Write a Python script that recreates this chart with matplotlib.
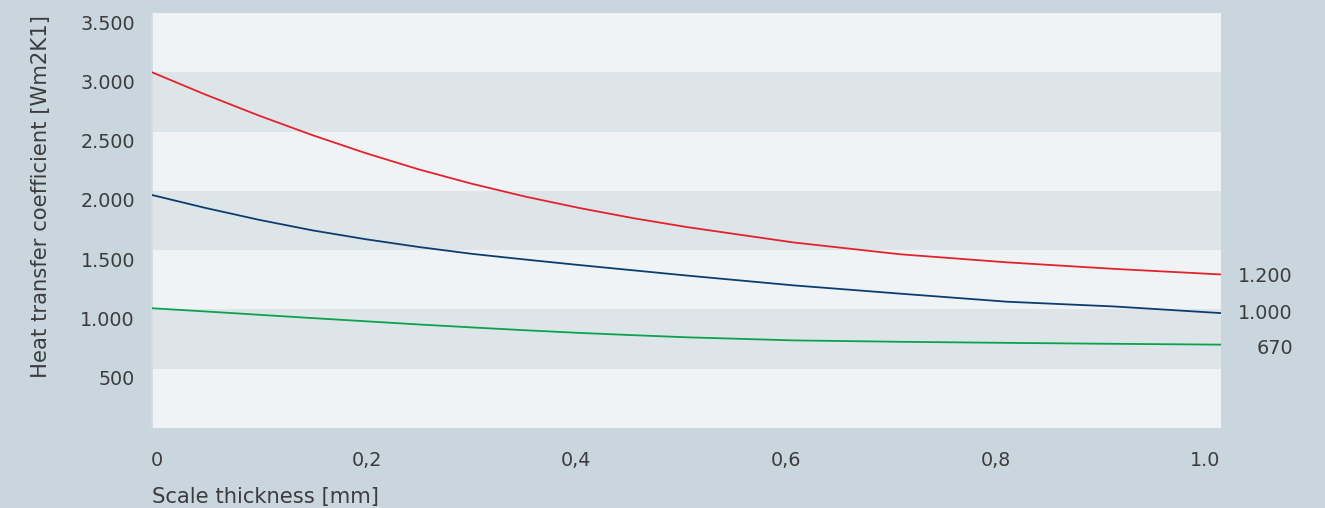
import matplotlib
matplotlib.use("Agg")
import matplotlib.pyplot as plt
from matplotlib.transforms import blended_transform_factory, ScaledTranslation

# ---- data ----
x_vals = [0, 0.05, 0.1, 0.15, 0.2, 0.25, 0.3, 0.35, 0.4, 0.45, 0.5, 0.6, 0.7, 0.8, 0.9, 1.0]
red_vals = [3000, 2812, 2635, 2470, 2318, 2180, 2058, 1950, 1855, 1770, 1695, 1565, 1465, 1397, 1342, 1295]
blue_vals = [1965, 1856, 1756, 1667, 1592, 1526, 1468, 1420, 1374, 1330, 1286, 1203, 1133, 1065, 1025, 969]
green_vals = [1010, 983, 955, 927, 900, 873, 848, 824, 802, 783, 765, 739, 727, 718, 710, 703]

x_ticks = [0, 0.2, 0.4, 0.6, 0.8, 1.0]
x_tick_labels = ["0", "0,2", "0,4", "0,6", "0,8", "1.0"]
y_ticks = [500, 1000, 1500, 2000, 2500, 3000, 3500]
y_tick_labels = ["500", "1.000", "1.500", "2.000", "2.500", "3.000", "3.500"]
end_labels = ["1.200", "1.000", "670"]

x_label = "Scale thickness [mm]"
y_label = "Heat transfer coefficient [Wm2K1]"

# ---- style ----
BG = "#c9d6de"
BAND_LIGHT = "#eff3f6"
BAND_DARK = "#dee5e9"
TXT = "#3c3c3c"
RED = "#e3222d"
BLUE = "#0b3d6f"
GREEN = "#0aa24b"
plt.rcParams['font.family'] = ['DejaVu Sans']
FS = 13.8
FS_T = 15.2

W, H = 1325, 508
fig = plt.figure(figsize=(W / 100, H / 100), dpi=100, facecolor=BG)
ax = fig.add_axes([152 / W, 1 - 428 / H, (1221 - 152) / W, (428 - 13) / H])
ax.set_xlim(0, 1.0)
ax.set_ylim(0, 3500)
ax.set_facecolor(BAND_LIGHT)

band_edges = [0] + y_ticks
for i in range(len(band_edges) - 1):
    ax.axhspan(band_edges[i], band_edges[i + 1],
               color=BAND_DARK if i % 2 == 1 else BAND_LIGHT, lw=0, zorder=0)

for s in ["top", "right", "bottom"]:
    ax.spines[s].set_visible(False)
ax.spines["left"].set_color("#d2dce2")
ax.spines["left"].set_linewidth(1.2)
ax.set_xticks([])
ax.set_yticks([])

ax.plot(x_vals, red_vals, color=RED, lw=1.3, zorder=3)
ax.plot(x_vals, blue_vals, color=BLUE, lw=1.3, zorder=3)
ax.plot(x_vals, green_vals, color=GREEN, lw=1.3, zorder=3)

# y tick labels (sit slightly below their value)
ty = blended_transform_factory(ax.transAxes, ax.transData)
down = ScaledTranslation(0, -11 / 100, fig.dpi_scale_trans)
for v, lab in zip(y_ticks, y_tick_labels):
    ax.text(-17 / 1069, v, lab, transform=ty + down, ha="right", va="center",
            fontsize=FS, color=TXT)

# x tick labels (spread across the plot width)
tx = blended_transform_factory(ax.transAxes, ax.transAxes)
for v, lab in zip(x_ticks, x_tick_labels):
    xf = (5 + v * 1048) / 1069
    ax.text(xf, -(460 - 428) / 415, lab, transform=tx, ha="center", va="center",
            fontsize=FS, color=TXT)

# end labels
offs = [-2, 0, -4]
for series, lab, o in zip([red_vals, blue_vals, green_vals], end_labels, offs):
    ax.text((1293 - 152) / 1069, series[-1], lab,
            transform=ty + ScaledTranslation(0, o / 100, fig.dpi_scale_trans),
            ha="right", va="center", fontsize=FS, color=TXT)

fig.text(152 / W, 1 - 497 / H, x_label, ha="left", va="center", fontsize=FS_T, color=TXT)
fig.text(41 / W, 1 - 196 / H, y_label, ha="center", va="center", rotation=90,
         fontsize=FS_T, color=TXT)

fig.savefig("out.png", dpi=100, facecolor=BG)
